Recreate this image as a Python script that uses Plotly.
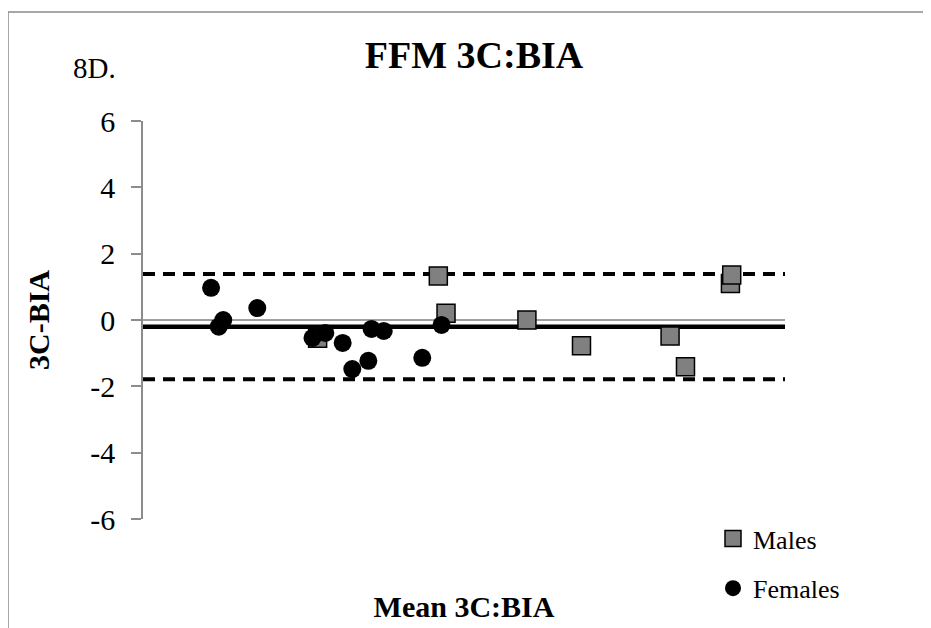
import plotly.graph_objects as go

# ---- data ----
female_x = [35.3, 35.9, 36.25, 38.9, 43.2, 44.2, 45.55, 46.3, 47.55, 47.8, 48.75, 51.75, 53.25]
female_y = [0.97, -0.2, 0.0, 0.36, -0.54, -0.39, -0.69, -1.48, -1.23, -0.27, -0.33, -1.14, -0.15]
male_x = [43.6, 53.0, 53.6, 59.9, 64.15, 71.05, 72.25, 75.75, 75.85]
male_y = [-0.55, 1.33, 0.2, 0.0, -0.78, -0.48, -1.41, 1.1, 1.36]
mean_bias = -0.2
upper_loa = 1.39
lower_loa = -1.79
x_range = [30, 80]
y_ticks = [-6, -4, -2, 0, 2, 4, 6]
y_tick_labels = ["-6", "-4", "-2", "0", "2", "4", "6"]
y_range = [-6, 6]

SERIF = "Liberation Serif, Times New Roman, serif"
AXIS_GRAY = "#8c8c8c"

# the page body has an 8px margin, so the figure is 8px smaller than the window
W, H = 923, 620
PAD = 8
PL, PT, PR, PB = 143, 121, 785, 519   # plot area in page pixels
PW, PH = PR - PL, PB - PT


def px(xp):
    return (xp - PL) / PW


def py(yp):
    return (PB - yp) / PH


fig = go.Figure()

# reference lines (mean and limits of agreement)
fig.add_trace(go.Scatter(x=x_range, y=[upper_loa, upper_loa], mode="lines",
                         line=dict(color="black", width=4, dash="12px,8px"),
                         showlegend=False, hoverinfo="skip"))
fig.add_trace(go.Scatter(x=x_range, y=[lower_loa, lower_loa], mode="lines",
                         line=dict(color="black", width=4, dash="12px,8px"),
                         showlegend=False, hoverinfo="skip"))
fig.add_trace(go.Scatter(x=x_range, y=[mean_bias, mean_bias], mode="lines",
                         line=dict(color="black", width=4.5),
                         showlegend=False, hoverinfo="skip"))

fig.add_trace(go.Scatter(x=male_x, y=male_y, mode="markers", name="Males",
                         legendgroup="m",
                         marker=dict(symbol="square", size=18, color="#808080",
                                     line=dict(color="black", width=1.5))))
fig.add_trace(go.Scatter(x=female_x, y=female_y, mode="markers", name="Females",
                         legendgroup="f",
                         marker=dict(symbol="circle", size=18, color="black",
                                     line=dict(width=0))))

fig.update_layout(
    width=W, height=H,
    margin=dict(l=PL - PAD, r=W - (PR - PAD), t=PT - PAD, b=H - (PB - PAD),
                autoexpand=False),
    paper_bgcolor="white", plot_bgcolor="white",
    font=dict(family=SERIF, color="black"),
    title=dict(text="<b>FFM 3C:BIA</b>", x=(474 - PAD) / W, xanchor="center",
               y=1 - (55 - PAD) / H, yanchor="middle", yref="container",
               font=dict(size=38, family=SERIF, color="black")),
    xaxis=dict(range=x_range, showticklabels=False, ticks="", showline=False,
               showgrid=False, zeroline=False, automargin=False,
               title=dict(text="<b>Mean 3C:BIA</b>", standoff=76,
                          font=dict(size=30, family=SERIF))),
    yaxis=dict(range=y_range, tickvals=y_ticks, ticktext=y_tick_labels,
               ticks="outside", ticklen=10,
               tickcolor=AXIS_GRAY, tickwidth=1.5, showline=True,
               linecolor=AXIS_GRAY, linewidth=1.5, showgrid=False,
               zeroline=True, zerolinecolor="#a0a0a0", zerolinewidth=1.5,
               ticklabelstandoff=10, automargin=False,
               tickfont=dict(size=30, family=SERIF, color="black"),
               title=dict(text="<b>3C-BIA</b>", standoff=32,
                          font=dict(size=30, family=SERIF))),
    legend=dict(xref="container", yref="container",
                x=(713 - PAD) / W, xanchor="left", y=1 - (515 - PAD) / H,
                yanchor="top", traceorder="grouped", tracegroupgap=13,
                font=dict(size=26, family=SERIF), bgcolor="rgba(0,0,0,0)",
                itemwidth=30),
    annotations=[dict(text="8D.", xref="paper", yref="paper",
                      x=px(71), xanchor="left",
                      y=py(80), yanchor="bottom", yshift=-6,
                      showarrow=False, font=dict(size=29, family=SERIF, color="black"))],
    shapes=[dict(type="line", xref="paper", yref="paper",
                 x0=px(8), x1=px(8), y0=py(650), y1=py(12),
                 line=dict(color="#8a8a8a", width=1.5)),
            dict(type="line", xref="paper", yref="paper",
                 x0=px(8), x1=px(950), y0=py(12), y1=py(12),
                 line=dict(color="#8a8a8a", width=1.5))],
)

fig.write_html("out.html")
